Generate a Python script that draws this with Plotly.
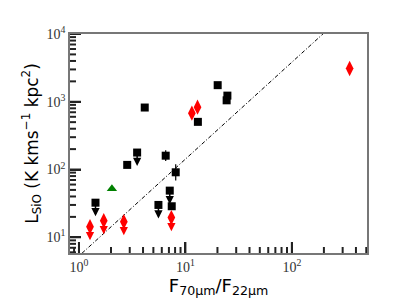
import numpy as np
import plotly.graph_objects as go

# Black squares
sq_x = [1.43, 2.84, 3.52, 4.15, 5.58, 6.53, 7.13, 7.44, 8.11, 13.1, 20.1, 24.8, 24.4]
sq_y = [32.4, 117, 178, 822, 30, 160, 48.8, 28.7, 91, 505, 1758, 1232, 1050]
sq_lim = [1, 0, 1, 0, 1, 0, 1, 0, 0, 0, 0, 0, 0]
sq_err_dex = [0, 0, 0, 0, 0, 0.08, 0, 0, 0.12, 0, 0, 0, 0]

# Red diamonds
rd_x = [1.27, 1.71, 2.64, 7.38, 11.5, 13.0, 349]
rd_y = [14.3, 17.6, 17.0, 19.5, 679, 832, 3090]
rd_lim = [1, 1, 1, 1, 0, 0, 0]

# Green triangle
gt_x = [2.04]
gt_y = [52]

# Relation line y = A x^k
line_A = 5.29
line_k = 1.43
line_x = [0.8, 600]

# Tick labels
x_major = [1, 10, 100]
x_labels = ["10<sup>0</sup>", "10<sup>1</sup>", "10<sup>2</sup>"]
y_major = [10, 100, 1000, 10000]
y_labels = ["10<sup>1</sup>", "10<sup>2</sup>", "10<sup>3</sup>", "10<sup>4</sup>"]

x_range = [0.824, 508]
y_range = [5.86, 10000]
arrow_dex = 0.2

W, H = 407, 305
M = dict(l=70, r=40, t=34, b=52)
xr = [np.log10(x_range[0]), np.log10(x_range[1])]
yr = [np.log10(y_range[0]), np.log10(y_range[1])]
px_per_dex_x = (W - M["l"] - M["r"]) / (xr[1] - xr[0])
px_per_dex_y = (H - M["t"] - M["b"]) / (yr[1] - yr[0])

def minor_vals(lo, hi):
    vals = []
    for k in range(-1, 5):
        for d in range(2, 10):
            v = d * 10.0 ** k
            if lo <= v <= hi:
                vals.append(v)
    return vals

fig = go.Figure()

# tick marks drawn through the axis scales, one trace per tick
def add_tick(v, length_px, axis):
    if axis == "x":
        tx = [v, v]
        ty = [y_range[0], y_range[0] * 10 ** (length_px / px_per_dex_y)]
    else:
        tx = [x_range[0], x_range[0] * 10 ** (length_px / px_per_dex_x)]
        ty = [v, v]
    fig.add_trace(go.Scatter(x=tx, y=ty, mode="lines", cliponaxis=False,
                             line=dict(color="#222", width=2),
                             showlegend=False, hoverinfo="skip"))

for v in x_major:
    add_tick(v, 11, "x")
for v in minor_vals(*x_range):
    add_tick(v, 6, "x")
for v in y_major:
    add_tick(v, 11, "y")
for v in minor_vals(*y_range):
    add_tick(v, 6, "y")

lx = np.array(line_x)
fig.add_trace(go.Scatter(x=lx, y=line_A * lx ** line_k, mode="lines",
                         line=dict(color="black", width=1, dash="4px,2px,1px,2px"),
                         showlegend=False, hoverinfo="skip"))

sq_y_arr = np.array(sq_y, dtype=float)
err_dex = np.array(sq_err_dex)
fig.add_trace(go.Scatter(
    x=sq_x, y=sq_y, mode="markers",
    marker=dict(symbol="square", size=8, color="black"),
    error_y=dict(type="data", symmetric=False,
                 array=sq_y_arr * (10 ** err_dex - 1),
                 arrayminus=sq_y_arr * (1 - 10 ** (-err_dex)),
                 color="black", thickness=1.2, width=0),
    showlegend=False))

fig.add_trace(go.Scatter(
    x=rd_x, y=rd_y, mode="markers",
    marker=dict(symbol="diamond-tall", size=11, color="red"),
    showlegend=False))

fig.add_trace(go.Scatter(
    x=gt_x, y=gt_y, mode="markers",
    marker=dict(symbol="triangle-up", size=9, color="green"),
    showlegend=False))

def add_arrows(xs, ys, lims, color):
    for xv, yv, lim in zip(xs, ys, lims):
        if lim:
            fig.add_annotation(x=np.log10(xv), y=np.log10(yv) - arrow_dex,
                               ax=np.log10(xv), ay=np.log10(yv),
                               xref="x", yref="y", axref="x", ayref="y",
                               showarrow=True, arrowhead=2, arrowsize=1.1,
                               arrowwidth=1.5, arrowcolor=color, text="")

add_arrows(sq_x, sq_y, sq_lim, "black")
add_arrows(rd_x, rd_y, rd_lim, "red")

tick_font = dict(family="Liberation Serif, DejaVu Serif, serif", size=14, color="#333")

fig.update_layout(
    xaxis=dict(
        type="log", range=xr,
        tickvals=x_major, ticktext=x_labels,
        ticks="inside", ticklen=11, tickcolor="#222", tickwidth=2,
        showgrid=False,
        showline=True, linecolor="#777", linewidth=1.5, mirror=True,
        tickfont=tick_font,
        title=dict(text="F<sub>70μm</sub>/F<sub>22μm</sub>", standoff=2,
                   font=dict(family="DejaVu Sans, sans-serif", size=18, color="black")),
    ),
    yaxis=dict(
        type="log", range=yr,
        tickvals=y_major, ticktext=y_labels,
        ticks="inside", ticklen=11, tickcolor="#222", tickwidth=2,
        showgrid=False,
        showline=True, linecolor="#777", linewidth=1.5, mirror=True,
        tickfont=tick_font,
        title=dict(text="L<sub>SiO</sub> (K kms<sup>−1</sup> kpc<sup>2</sup>)", standoff=4,
                   font=dict(family="DejaVu Sans, sans-serif", size=17, color="black")),
    ),
    width=W, height=H,
    margin=M,
    plot_bgcolor="white", paper_bgcolor="white",
    showlegend=False,
)

fig.write_html("out.html", config={"displayModeBar": False},
               post_script="document.body.style.margin='0';")
